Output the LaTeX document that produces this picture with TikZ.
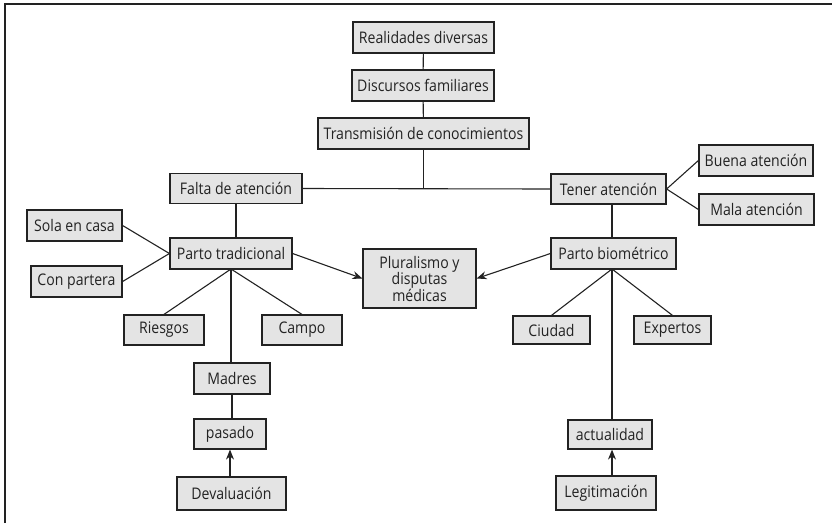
\documentclass[tikz,border=0pt]{standalone}
\usepackage{fontspec}
\setmainfont{Open Sans}[FakeStretch=0.88]
\usetikzlibrary{arrows.meta}
\definecolor{boxfill}{HTML}{E4E4E4}
\definecolor{ink}{HTML}{222222}
\tikzset{
  box/.style={draw=ink, fill=boxfill, line width=1.2pt, text=ink,
    font=\fontsize{16}{18}\selectfont, minimum height=31pt,
    inner sep=2pt, align=center},
  link/.style={draw=ink, line width=1.1pt},
  arr/.style={link, -{Stealth[length=10pt,width=8pt]}},
}
\begin{document}
\begin{tikzpicture}[x=1pt,y=-1pt]
\useasboundingbox (0,0) rectangle (832,523);
% frame lines along the top and left edges
\draw[ink, line width=1.6pt] (5,523) -- (5,4) -- (832,4);

% top chain
\node[box, minimum width=141pt] (real) at (423.5,37.5) {Realidades diversas};
\node[box, minimum width=142pt] (disc) at (423,85.5) {Discursos familiares};
\node[box, minimum width=211pt] (trans) at (423.5,133.5) {Transmisión de conocimientos};

% second level
\node[box, minimum width=132pt, minimum height=30pt] (falta) at (236,188.5) {Falta de atención};
\node[box, minimum width=115pt, minimum height=30pt] (tener) at (608.5,189) {Tener atención};
\node[box, minimum width=114pt] (buena) at (756,160.5) {Buena atención};
\node[box, minimum width=115pt] (mala) at (756.5,209.5) {Mala atención};

% births
\node[box, minimum width=122pt] (trad) at (231,253.5) {Parto tradicional};
\node[box, minimum width=125pt] (bio) at (613.5,253.5) {Parto biométrico};
\node[box, minimum width=113pt, minimum height=59pt, font=\fontsize{16}{16.5}\selectfont] (plur) at (419.5,278.5) {Pluralismo y\\disputas\\médicas};

\node[box, minimum width=95pt] (sola) at (74.5,225.5) {Sola en casa};
\node[box, minimum width=91pt] (partera) at (76.5,281.5) {Con partera};

\node[box, minimum width=80pt, minimum height=30pt] (riesgos) at (164,330) {Riesgos};
\node[box, minimum width=80pt, minimum height=30pt] (campo) at (302,330) {Campo};
\node[box, minimum width=77pt, minimum height=28pt] (ciudad) at (551.5,330) {Ciudad};
\node[box, minimum width=77pt, minimum height=28pt] (expertos) at (672.5,330) {Expertos};

\node[box, minimum width=76pt] (madres) at (232,378.5) {Madres};
\node[box, minimum width=72pt, minimum height=30pt] (pasado) at (230,434) {pasado};
\node[box, minimum width=109pt, minimum height=33pt] (deval) at (231.5,493.5) {Devaluación};
\node[box, minimum width=84pt, minimum height=29pt] (actual) at (610,434.5) {actualidad};
\node[box, minimum width=100pt, minimum height=34pt] (legit) at (606,493) {Legitimación};

% connectors
\draw[link] (real) -- (disc);
\draw[link] (disc) -- (trans);
\draw[link] (trans.south) -- (trans.south |- falta.east);
\draw[link] (falta.east) -- (tener.west);
\draw[link] (tener.east) -- (buena.west);
\draw[link] (tener.east) -- (mala.west);
\draw[link] (falta.south) -- (falta.south |- trad.north);
\draw[link] (tener.south -| bio.north) ++(-1.5,0) coordinate (tb) -- (tb |- bio.north);

\draw[link] (sola.east) -- (trad.west);
\draw[link] (partera.east) -- (trad.west);
\draw[arr] (trad.east) -- (plur.west);
\draw[arr] (bio.west) -- (plur.east);

\coordinate (tradb) at (231,269);
\draw[link] (tradb) -- (riesgos.north);
\draw[link] (tradb) -- (campo.north);
\draw[link] (tradb) -- (tradb |- madres.north);
\draw[link] (madres.south) ++(0,0) coordinate (mb) -- (mb |- pasado.north);
\draw[arr] (deval.north -| pasado.south) -- (pasado.south);

\coordinate (biob) at (612,269);
\draw[link] (biob) -- (ciudad.north);
\draw[link] (biob) -- (expertos.north);
\draw[link] (biob) -- (biob |- actual.north);
\draw[arr] (biob |- legit.north) -- (biob |- actual.south);
\end{tikzpicture}
\end{document}
